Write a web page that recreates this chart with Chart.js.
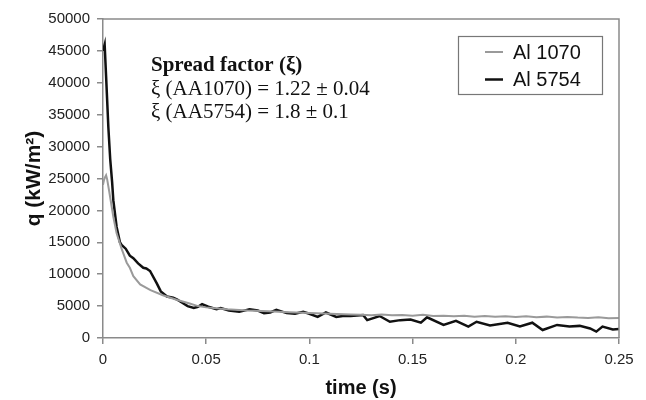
<!DOCTYPE html>
<html><head><meta charset="utf-8">
<script src="https://cdn.jsdelivr.net/npm/chart.js@4"></script>
<style>html,body{margin:0;padding:0;background:#fff}</style>
</head><body>
<canvas id="c" width="646" height="400"></canvas>
<script>
const seriesNames = ['Al 1070', 'Al 5754'];
const time1070 = [0, 0.0005, 0.001, 0.0015, 0.002, 0.003, 0.004, 0.005, 0.0066, 0.009, 0.0115, 0.013, 0.0147, 0.018, 0.023, 0.029, 0.036, 0.042, 0.046, 0.05, 0.06, 0.07, 0.08, 0.09, 0.1, 0.11, 0.12, 0.125, 0.13, 0.135, 0.14, 0.145, 0.15, 0.155, 0.16, 0.165, 0.17, 0.175, 0.18, 0.185, 0.19, 0.195, 0.2, 0.205, 0.21, 0.215, 0.22, 0.225, 0.23, 0.235, 0.24, 0.245, 0.25];
const q1070 = [24000, 24800, 25200, 25500, 24900, 23000, 21000, 19000, 16400, 14000, 11800, 11000, 9700, 8400, 7500, 6700, 5950, 5400, 5000, 4800, 4500, 4300, 4200, 4050, 3900, 3800, 3700, 3650, 3550, 3700, 3550, 3600, 3500, 3650, 3450, 3500, 3400, 3500, 3350, 3450, 3350, 3400, 3300, 3400, 3250, 3350, 3200, 3300, 3200, 3150, 3250, 3100, 3150];
const time5754 = [0, 0.0008, 0.0015, 0.0026, 0.0035, 0.0044, 0.005, 0.0066, 0.0082, 0.009, 0.011, 0.013, 0.0147, 0.017, 0.0195, 0.021, 0.0228, 0.026, 0.028, 0.031, 0.034, 0.036, 0.038, 0.041, 0.044, 0.046, 0.048, 0.051, 0.055, 0.057, 0.061, 0.066, 0.071, 0.075, 0.078, 0.081, 0.084, 0.089, 0.093, 0.097, 0.1, 0.104, 0.108, 0.113, 0.117, 0.12, 0.126, 0.128, 0.134, 0.139, 0.144, 0.149, 0.154, 0.157, 0.165, 0.171, 0.177, 0.181, 0.1875, 0.196, 0.202, 0.208, 0.213, 0.22, 0.226, 0.231, 0.236, 0.239, 0.242, 0.247, 0.25];
const q5754 = [45000, 46000, 41000, 33000, 28000, 24500, 21600, 17400, 15000, 14600, 14000, 12900, 12500, 11700, 11000, 10900, 10500, 8600, 7300, 6500, 6300, 6000, 5600, 5000, 4700, 4900, 5300, 4900, 4500, 4700, 4300, 4100, 4500, 4300, 3900, 4000, 4400, 3900, 3800, 4100, 3800, 3300, 4000, 3300, 3500, 3450, 3600, 2800, 3450, 2550, 2800, 2900, 2400, 3250, 2050, 2700, 1800, 2550, 1950, 2400, 1800, 2400, 1250, 2050, 1800, 1900, 1500, 1000, 1800, 1350, 1400];
const yMin = 0, yMax = 50000, yStep = 5000;
const xMin = 0, xMax = 0.25, xStep = 0.05;
const xTitle = 'time (s)';
const yTitle = 'q (kW/m²)';
const noteLines = ['Spread factor (ξ)', 'ξ (AA1070) = 1.22 ± 0.04', 'ξ (AA5754) = 1.8 ± 0.1'];

const pts = (xs, ys) => xs.map((x, i) => ({x: x, y: ys[i]}));
const sansFam = '"Liberation Sans", Arial, sans-serif';
const axisCol = '#8a8a8a';

const framePlugin = {
  id: 'frame',
  afterDatasetsDraw(chart) {
    const {ctx, chartArea: a} = chart;
    ctx.save();
    ctx.strokeStyle = axisCol; ctx.lineWidth = 1.5;
    ctx.beginPath();
    ctx.moveTo(a.left, a.top); ctx.lineTo(a.right, a.top); ctx.lineTo(a.right, a.bottom);
    ctx.stroke();
    ctx.restore();
  },
  afterDraw(chart) {
    const {ctx, chartArea: a} = chart;
    ctx.save();
    ctx.fillStyle = '#111';
    ctx.textBaseline = 'alphabetic';
    ctx.textAlign = 'left';
    const nx = a.left + 48;
    noteLines.forEach((t, i) => {
      ctx.font = (i === 0 ? 'bold ' : '') + '21px "Liberation Serif", "Times New Roman", serif';
      ctx.fillText(t, nx, a.top + 52 + i * 23.5);
    });
    const bx = a.right - 161, by = a.top + 17, bw = 144, bh = 58;
    ctx.strokeStyle = '#777'; ctx.lineWidth = 1.2;
    ctx.strokeRect(bx + 0.5, by + 0.5, bw, bh);
    chart.data.datasets.forEach((ds, i) => {
      const ly = by + 16 + i * 27.5;
      ctx.strokeStyle = ds.borderColor; ctx.lineWidth = ds.borderWidth;
      ctx.beginPath(); ctx.moveTo(bx + 27, ly); ctx.lineTo(bx + 45, ly); ctx.stroke();
      ctx.fillStyle = '#111';
      ctx.font = '20px ' + sansFam;
      ctx.textBaseline = 'middle';
      ctx.fillText(ds.label, bx + 55, ly + 1);
    });
    ctx.restore();
  }
};

new Chart(document.getElementById('c'), {
  type: 'line',
  data: {
    datasets: [
      {label: seriesNames[0], data: pts(time1070, q1070), borderColor: '#9a9a9a', borderWidth: 2, pointRadius: 0, tension: 0, fill: false},
      {label: seriesNames[1], data: pts(time5754, q5754), borderColor: '#111111', borderWidth: 2.5, pointRadius: 0, tension: 0, fill: false}
    ]
  },
  options: {
    responsive: false,
    animation: false,
    devicePixelRatio: 1,
    layout: {padding: {top: 19, right: 27, left: 0, bottom: 0}},
    plugins: {legend: {display: false}, tooltip: {enabled: false}},
    scales: {
      x: {
        type: 'linear', min: xMin, max: xMax,
        afterFit: s => { s.height = 62; },
        ticks: {stepSize: xStep, color: '#222', font: {family: sansFam, size: 15}, padding: 7, maxRotation: 0,
          callback: v => String(Number(v.toFixed(2)))},
        grid: {drawOnChartArea: false, color: axisCol, lineWidth: 1.5, tickLength: 6},
        border: {color: axisCol, width: 1.5},
        title: {display: true, text: xTitle, color: '#111', font: {family: sansFam, size: 20, weight: 'bold'}, padding: {top: 0, bottom: 0}}
      },
      y: {
        type: 'linear', min: yMin, max: yMax,
        afterFit: s => { s.width = 103; },
        ticks: {stepSize: yStep, color: '#222', font: {family: sansFam, size: 15}, padding: 7,
          callback: v => String(v)},
        grid: {drawOnChartArea: false, color: axisCol, lineWidth: 1.5, tickLength: 6},
        border: {color: axisCol, width: 1.5},
        title: {display: true, text: yTitle, color: '#111', font: {family: sansFam, size: 21, weight: 'bold'}, padding: {top: 22, bottom: 0}}
      }
    }
  },
  plugins: [framePlugin]
});
</script>
</body></html>
